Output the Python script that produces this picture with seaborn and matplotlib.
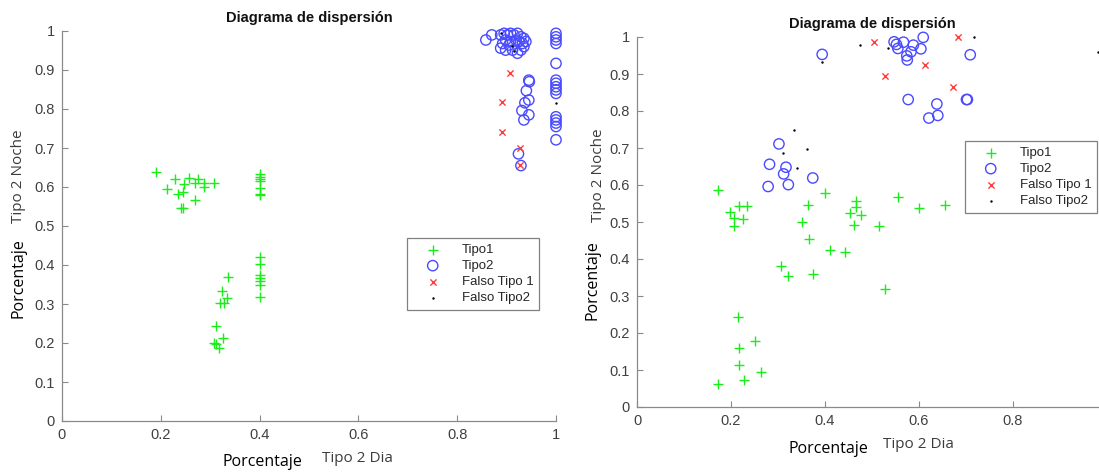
import matplotlib
matplotlib.use("Agg")
import matplotlib.pyplot as plt
import seaborn as sns

sns.set_style("white")
plt.rcParams['font.family'] = ['Liberation Sans', 'DejaVu Sans']

# ---------- data: left panel ----------
izq_tipo1_x = [0.191, 0.228, 0.257, 0.275, 0.246, 0.270, 0.287, 0.307, 0.213, 0.244, 0.235, 0.287,
               0.269, 0.240, 0.244,
               0.40, 0.40, 0.40, 0.40, 0.40, 0.40, 0.40,
               0.40, 0.40, 0.40, 0.40, 0.40, 0.40, 0.40,
               0.336, 0.324, 0.333, 0.319, 0.328, 0.312, 0.307, 0.326, 0.311, 0.318]
izq_tipo1_y = [0.638, 0.621, 0.624, 0.621, 0.608, 0.610, 0.609, 0.611, 0.594, 0.587, 0.581, 0.599,
               0.567, 0.547, 0.547,
               0.633, 0.626, 0.620, 0.616, 0.598, 0.582, 0.579,
               0.421, 0.402, 0.374, 0.366, 0.360, 0.349, 0.317,
               0.370, 0.333, 0.316, 0.302, 0.303, 0.244, 0.201, 0.212, 0.197, 0.188]

izq_tipo2_x = [0.858, 0.870, 0.888, 0.895, 0.902, 0.908, 0.915, 0.922, 0.929, 0.935, 0.939, 0.932,
               0.925, 0.919, 0.908, 0.898, 0.892, 0.888, 0.898, 0.912, 0.922, 0.929, 0.935, 0.905,
               0.945, 0.946, 0.940, 0.945, 0.937, 0.931, 0.945, 0.935, 0.924, 0.929,
               1.0, 1.0, 1.0, 1.0, 1.0, 1.0, 1.0, 1.0, 1.0, 1.0, 1.0, 1.0, 1.0, 1.0, 1.0]
izq_tipo2_y = [0.977, 0.990, 0.990, 0.994, 0.990, 0.994, 0.990, 0.994, 0.985, 0.981, 0.973, 0.968,
               0.973, 0.977, 0.973, 0.977, 0.968, 0.956, 0.951, 0.951, 0.943, 0.951, 0.960, 0.964,
               0.874, 0.870, 0.847, 0.823, 0.816, 0.796, 0.785, 0.772, 0.685, 0.655,
               0.994, 0.985, 0.977, 0.968, 0.917, 0.874, 0.866, 0.857, 0.849, 0.840,
               0.780, 0.772, 0.764, 0.755, 0.721]

izq_falso1_x = [0.906, 0.890, 0.890, 0.927, 0.927]
izq_falso1_y = [0.893, 0.819, 0.742, 0.701, 0.656]

izq_falso2_x = [0.888, 0.910, 0.915, 1.0]
izq_falso2_y = [0.994, 0.962, 0.949, 0.816]

# ---------- data: right panel ----------
der_tipo1_x = [0.173, 0.198, 0.218, 0.233, 0.206, 0.226, 0.206, 0.214, 0.252, 0.218, 0.216, 0.263,
               0.228, 0.173, 0.306, 0.322, 0.375, 0.363, 0.351, 0.366, 0.401, 0.411, 0.443, 0.467,
               0.467, 0.453, 0.476, 0.462, 0.514, 0.528, 0.556, 0.601, 0.655]
der_tipo1_y = [0.586, 0.528, 0.543, 0.543, 0.510, 0.507, 0.489, 0.242, 0.179, 0.159, 0.114, 0.095,
               0.073, 0.062, 0.382, 0.355, 0.359, 0.546, 0.501, 0.454, 0.578, 0.424, 0.418, 0.557,
               0.541, 0.525, 0.519, 0.492, 0.490, 0.318, 0.568, 0.539, 0.546]

der_tipo2_x = [0.394, 0.547, 0.552, 0.555, 0.567, 0.588, 0.609, 0.604, 0.583, 0.574, 0.575, 0.709,
               0.577, 0.638, 0.640, 0.621, 0.701, 0.703,
               0.302, 0.282, 0.317, 0.312, 0.374, 0.279, 0.322]
der_tipo2_y = [0.953, 0.987, 0.980, 0.969, 0.986, 0.978, 0.999, 0.968, 0.960, 0.949, 0.938, 0.952,
               0.831, 0.819, 0.788, 0.781, 0.831, 0.831,
               0.711, 0.656, 0.648, 0.630, 0.619, 0.596, 0.601]

der_falso1_x = [0.504, 0.684, 0.613, 0.528, 0.672]
der_falso1_y = [0.986, 0.999, 0.923, 0.894, 0.866]

der_falso2_x = [0.474, 0.533, 0.716, 0.981, 0.394, 0.333, 0.362, 0.310, 0.340]
der_falso2_y = [0.978, 0.970, 1.0, 0.959, 0.932, 0.749, 0.698, 0.686, 0.645]

etiquetas = ['Tipo1', 'Tipo2', 'Falso Tipo 1', 'Falso Tipo2']
ticks_x_izq = [0, 0.2, 0.4, 0.6, 0.8, 1]
ticks_x_der = [0, 0.2, 0.4, 0.6, 0.8]

W, H = 1099, 472
fig = plt.figure(figsize=(W / 100, H / 100), dpi=100)


def px_axes(x0, x1, ytop, ybot):
    return fig.add_axes([x0 / W, 1 - ybot / H, (x1 - x0) / W, (ybot - ytop) / H])


def dibujar(ax, t1x, t1y, t2x, t2y, f1x, f1y, f2x, f2y, xticks):
    sns.scatterplot(x=t1x, y=t1y, ax=ax, marker='+', color='#1aee1a', s=55,
                    linewidth=1.0, label=etiquetas[0])
    sns.scatterplot(x=t2x, y=t2y, ax=ax, marker='o', facecolor='none', edgecolor='#4a4aff',
                    s=55, linewidth=1.0, label=etiquetas[1])
    sns.scatterplot(x=f1x, y=f1y, ax=ax, marker='x', color='#ff3c3c', s=20,
                    linewidth=1.0, label=etiquetas[2])
    sns.scatterplot(x=f2x, y=f2y, ax=ax, marker='.', color='black', s=12,
                    linewidth=0, label=etiquetas[3])
    ax.set_xlim(0, 1)
    ax.set_ylim(0, 1)
    ax.set_xticks(xticks)
    ax.set_xticklabels([('%g' % t) for t in xticks])
    ax.set_yticks([i / 10 for i in range(11)])
    ax.set_yticklabels(['0'] + [f'0.{i}' for i in range(1, 10)] + ['1'])
    for s in ['top', 'right']:
        ax.spines[s].set_visible(False)
    for s in ['left', 'bottom']:
        ax.spines[s].set_color('#8a8a8a')
        ax.spines[s].set_linewidth(0.9)
    ax.tick_params(direction='in', length=4.5, width=0.8, color='#8a8a8a',
                   labelsize=10.5, labelcolor='#404040', pad=5,
                   bottom=True, left=True)
    ax.set_xlabel('')
    ax.set_ylabel('')
    for c in ax.collections:
        c.set_clip_on(False)


def leyenda(ax, x, y):
    leg = ax.legend(loc='upper left', bbox_to_anchor=(x / W, 1 - y / H),
                    bbox_transform=fig.transFigure, fancybox=False, framealpha=1,
                    edgecolor='#808080', fontsize=9.5, handlelength=3.0,
                    handletextpad=0.7, borderpad=0.45, labelspacing=0.28,
                    borderaxespad=0, scatterpoints=1)
    leg.get_frame().set_linewidth(0.9)


# ---------- left panel ----------
ax1 = px_axes(62, 556, 31, 421)
dibujar(ax1, izq_tipo1_x, izq_tipo1_y, izq_tipo2_x, izq_tipo2_y,
        izq_falso1_x, izq_falso1_y, izq_falso2_x, izq_falso2_y, ticks_x_izq)
leyenda(ax1, 407, 238)

# ---------- right panel (cut on the right side) ----------
ax2 = px_axes(637, 1107, 37, 407)
dibujar(ax2, der_tipo1_x, der_tipo1_y, der_tipo2_x, der_tipo2_y,
        der_falso1_x, der_falso1_y, der_falso2_x, der_falso2_y, ticks_x_der)
leyenda(ax2, 965, 141)

# ---------- titles and labels ----------
fig.text(309 / W, 1 - 18 / H, 'Diagrama de dispersión', ha='center', va='center',
         fontsize=10.5, fontweight='bold', color='#111111')
fig.text(872 / W, 1 - 24 / H, 'Diagrama de dispersión', ha='center', va='center',
         fontsize=10.5, fontweight='bold', color='#111111')

lab_fam = ['Open Sans', 'DejaVu Sans']
fig.text(19 / W, 1 - 278 / H, 'Porcentaje', rotation=90, ha='center', va='center',
         fontsize=11.5, family=lab_fam, color='black')
fig.text(19 / W, 1 - 176 / H, 'Tipo 2 Noche', rotation=90, ha='center', va='center',
         fontsize=11, family=lab_fam, color='#3c3c3c')
fig.text(262 / W, 1 - 462 / H, 'Porcentaje', ha='center', va='center',
         fontsize=11.5, family=lab_fam, color='black')
fig.text(357 / W, 1 - 459 / H, 'Tipo 2 Dia', ha='center', va='center',
         fontsize=11, family=lab_fam, color='#3c3c3c')

fig.text(592 / W, 1 - 280 / H, 'Porcentaje', rotation=90, ha='center', va='center',
         fontsize=11.5, family=lab_fam, color='black')
fig.text(598 / W, 1 - 175 / H, 'Tipo 2 Noche', rotation=90, ha='center', va='center',
         fontsize=11, family=lab_fam, color='#3c3c3c')
fig.text(828 / W, 1 - 449 / H, 'Porcentaje', ha='center', va='center',
         fontsize=11.5, family=lab_fam, color='black')
fig.text(918 / W, 1 - 444 / H, 'Tipo 2 Dia', ha='center', va='center',
         fontsize=11, family=lab_fam, color='#3c3c3c')

fig.savefig('out.png', dpi=100)
